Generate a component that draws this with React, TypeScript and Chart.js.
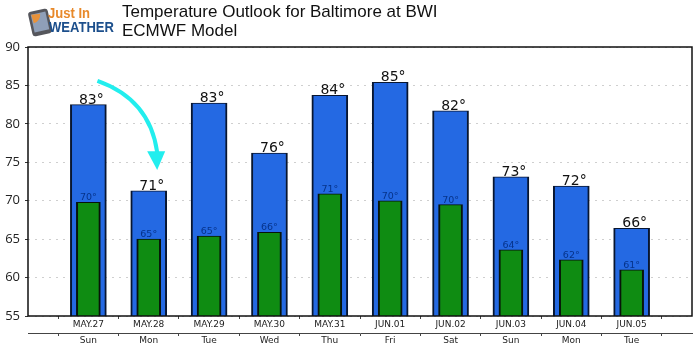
import React, { useEffect, useRef } from "react";
import { Chart, registerables } from "chart.js";

Chart.register(...registerables);

const dates = ["", "MAY.27", "MAY.28", "MAY.29", "MAY.30", "MAY.31", "JUN.01", "JUN.02", "JUN.03", "JUN.04", "JUN.05", ""];
const days = ["", "Sun", "Mon", "Tue", "Wed", "Thu", "Fri", "Sat", "Sun", "Mon", "Tue", ""];
const highs = [null, 82.5, 71.3, 82.7, 76.2, 83.7, 85.4, 81.7, 73.1, 71.9, 66.4, null];
const lows = [null, 69.8, 65.0, 65.4, 65.9, 70.9, 70.0, 69.5, 63.6, 62.3, 61.0, null];
const highLabels = ["", "83°", "71°", "83°", "76°", "84°", "85°", "82°", "73°", "72°", "66°", ""];
const lowLabels = ["", "70°", "65°", "65°", "66°", "71°", "70°", "70°", "64°", "62°", "61°", ""];
const titleLines = ["Temperature Outlook for Baltimore at BWI", "ECMWF Model"];

const decor = {
  id: "decor",
  afterDatasetsDraw(chart: any) {
    const { ctx, chartArea: a, scales } = chart;
    const x = scales.x;
    const y = scales.y;
    ctx.save();
    // frame
    ctx.strokeStyle = "#111";
    ctx.lineWidth = 1.5;
    ctx.strokeRect(a.left, a.top, a.right - a.left, a.bottom - a.top);

    // value labels
    ctx.textAlign = "center";
    ctx.textBaseline = "alphabetic";
    highs.forEach((v, i) => {
      if (v == null) return;
      ctx.font = "14px 'DejaVu Sans'";
      ctx.fillStyle = "#111";
      ctx.fillText(highLabels[i], x.getPixelForValue(i) + 3, y.getPixelForValue(v) - 1);
    });
    lows.forEach((v, i) => {
      if (v == null) return;
      ctx.font = "9.5px 'DejaVu Sans'";
      ctx.fillStyle = "#06338a";
      ctx.fillText(lowLabels[i], x.getPixelForValue(i), y.getPixelForValue(v) - 2);
    });

    // arrow, placed in data units
    const sx = x.getPixelForValue(1.15), sy = y.getPixelForValue(85.6);
    const cx = x.getPixelForValue(2.02), cy = y.getPixelForValue(83.2);
    const ex = x.getPixelForValue(2.14), ey = y.getPixelForValue(76.3);
    const tipY = y.getPixelForValue(74);
    ctx.strokeStyle = "#22eeee";
    ctx.lineWidth = 4;
    ctx.beginPath();
    ctx.moveTo(sx, sy);
    ctx.quadraticCurveTo(cx, cy, ex, ey);
    ctx.stroke();
    ctx.fillStyle = "#22eeee";
    ctx.beginPath();
    ctx.moveTo(ex - 10, ey - 1);
    ctx.lineTo(ex + 8, ey - 1);
    ctx.lineTo(ex, tipY);
    ctx.closePath();
    ctx.fill();

    // title
    ctx.textAlign = "left";
    ctx.fillStyle = "#111";
    ctx.font = "17px 'Liberation Sans'";
    ctx.fillText(titleLines[0], 122, 17);
    ctx.fillText(titleLines[1], 122, 36);

    // logo
    ctx.save();
    ctx.translate(40, 22);
    ctx.rotate(-0.22);
    ctx.fillStyle = "#55565c";
    ctx.beginPath();
    ctx.roundRect(-10, -12, 20, 25, 3);
    ctx.fill();
    ctx.fillStyle = "#8f9fb8";
    ctx.fillRect(-7.5, -9, 15, 18);
    ctx.fillStyle = "#e8923a";
    ctx.beginPath();
    ctx.arc(-7, -9, 9, 0.1, 1.5);
    ctx.lineTo(-7, -9);
    ctx.fill();
    ctx.restore();
    ctx.fillStyle = "#e8892a";
    ctx.font = "bold 15px 'Liberation Sans'";
    ctx.fillText("Just In", 48, 18, 42);
    ctx.fillStyle = "#1c4f8c";
    ctx.font = "bold 14px 'Liberation Sans'";
    ctx.fillText("WEATHER", 49, 32, 65);
    ctx.restore();
  },
};

export default function App() {
  const ref = useRef<HTMLCanvasElement>(null);
  useEffect(() => {
    const chart = new Chart(ref.current!, {
      type: "bar",
      data: {
        labels: dates,
        datasets: [
          {
            data: lows,
            grouped: false,
            order: 1,
            barThickness: 24,
            backgroundColor: "#0f8c12",
            borderColor: "#081408",
            borderWidth: { left: 2, right: 2, top: 1, bottom: 0 },
          },
          {
            data: highs,
            grouped: false,
            order: 2,
            barThickness: 36,
            backgroundColor: "#2469e3",
            borderColor: "#081630",
            borderWidth: { left: 2, right: 2, top: 1, bottom: 0 },
          },
        ] as any,
      },
      options: {
        responsive: false,
        animation: false,
        events: [],
        layout: { padding: { top: 47, right: 8, left: 0, bottom: 0 } },
        plugins: { legend: { display: false }, tooltip: { enabled: false }, title: { display: false } },
        scales: {
          y: {
            min: 55,
            max: 90,
            afterFit(s: any) { s.width = 28; },
            ticks: {
              stepSize: 5,
              padding: 5,
              color: "#222",
              font: { family: "'Open Sans'", size: 13 },
            },
            border: { display: false, dash: [2, 5] },
            grid: {
              color: "#cfcfcf",
              lineWidth: 1,
              tickColor: "#333",
              tickLength: 3,
              tickBorderDash: [],
            },
          },
          x: {
            type: "category",
            position: "bottom",
            offset: false,
            afterFit(s: any) { s.height = 17; },
            ticks: {
              autoSkip: false,
              maxRotation: 0,
              padding: 0,
              color: "#222",
              font: { family: "'DejaVu Sans'", size: 9 },
            },
            border: { display: false },
            grid: { drawOnChartArea: false, tickColor: "#444", tickLength: 3 },
          },
          x2: {
            type: "category",
            position: "bottom",
            offset: false,
            labels: days,
            afterFit(s: any) { s.height = 21; },
            ticks: {
              autoSkip: false,
              maxRotation: 0,
              padding: -1,
              color: "#222",
              font: { family: "'DejaVu Sans'", size: 9 },
            },
            border: { display: true, color: "#444", width: 1 },
            grid: { drawOnChartArea: false, tickColor: "#444", tickLength: 3 },
          },
        } as any,
      },
      plugins: [decor],
    });
    return () => chart.destroy();
  }, []);
  return (
    <div style={{ position: "absolute", left: 0, top: 0, width: 700, height: 354, background: "#fff" }}>
      <canvas ref={ref} width={700} height={354} style={{ display: "block" }} />
    </div>
  );
}
